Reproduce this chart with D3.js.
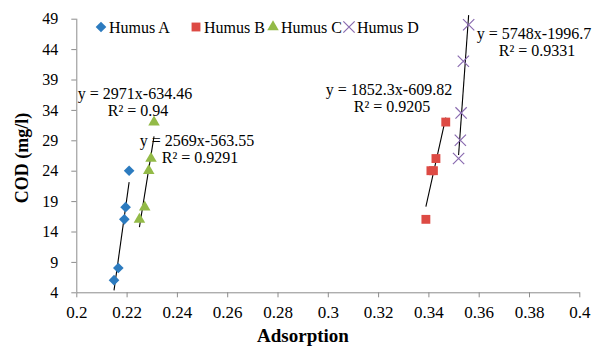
<!DOCTYPE html>
<html>
<head>
<meta charset="utf-8">
<script src="https://cdn.jsdelivr.net/npm/d3@7"></script>
<style>
  body { margin: 0; background: #fff; }
  text { font-family: "Liberation Serif", "Times New Roman", serif; fill: #000; }
</style>
</head>
<body>
<div id="chart"></div>
<script>
// values
const seriesNames = ['Humus A', 'Humus B', 'Humus C', 'Humus D'];
const seriesColors = ['#2c7bbf', '#dd4a44', '#93ba47', '#8a6bb0'];

const humusAx = [0.2150, 0.2167, 0.2191, 0.2196, 0.2210];
const humusAy = [6, 8, 16, 18, 24];
const humusBx = [0.3390, 0.3410, 0.3420, 0.3430, 0.3469];
const humusBy = [16, 24, 24, 26, 32];
const humusCx = [0.2251, 0.2272, 0.2288, 0.2297, 0.2309];
const humusCy = [16, 18, 24, 26, 32];
const humusDx = [0.3520, 0.3527, 0.3530, 0.3539, 0.3560];
const humusDy = [26, 29, 33.5, 42, 48];

// trendline slope / intercept / r2
const trendSlope = [2971, 1852.3, 2569, 5748];
const trendIntercept = [-634.46, -609.82, -563.55, -1996.7];
const trendR2 = ['0.94', '0.9205', '0.9291', '0.9331'];

const xTicks = [0.2, 0.22, 0.24, 0.26, 0.28, 0.3, 0.32, 0.34, 0.36, 0.38, 0.4];
const yTicks = [4, 9, 14, 19, 24, 29, 34, 39, 44, 49];

const width = 592, height = 346;
const serif = '"Liberation Serif", "Times New Roman", serif';

const svg = d3.select('#chart').append('svg')
    .attr('width', width)
    .attr('height', height);

const x = d3.scaleLinear().domain([0.2, 0.4]).range([76.3, 579.3]);
const y = d3.scaleLinear().domain([4, 49]).range([292.3, 18.7]);

const axisColor = '#8c8c8c';

// x axis
const gx = svg.append('g')
    .attr('transform', 'translate(0,' + y(4) + ')')
    .call(d3.axisBottom(x).tickValues(xTicks).tickFormat(d => String(+d.toFixed(2)))
        .tickSizeInner(5).tickSizeOuter(0).tickPadding(9));
gx.attr('font-family', serif).attr('font-size', 17);
gx.select('.domain').attr('stroke', axisColor);
gx.selectAll('.tick line').attr('stroke', axisColor);
gx.selectAll('.tick text').style('font-size', '17px').style('font-family', serif);

// y axis
const gy = svg.append('g')
    .attr('transform', 'translate(' + x(0.2) + ',0)')
    .call(d3.axisLeft(y).tickValues(yTicks).tickSizeInner(5).tickSizeOuter(0).tickPadding(13));
gy.attr('font-family', serif).attr('font-size', 16);
gy.select('.domain').attr('stroke', axisColor);
gy.selectAll('.tick line').attr('stroke', axisColor);
gy.selectAll('.tick text').style('font-size', '16px').style('font-family', serif);
gy.selectAll('.domain').attr('d', 'M0.5,' + y(4) + 'V' + y(49));

// axis titles
svg.append('text')
    .attr('x', 303).attr('y', 342)
    .attr('text-anchor', 'middle')
    .style('font-size', '19px').style('font-weight', 'bold')
    .text('Adsorption');

svg.append('text')
    .attr('transform', 'translate(28,158) rotate(-90)')
    .attr('text-anchor', 'middle')
    .style('font-size', '18px').style('font-weight', 'bold')
    .text('COD (mg/l)');

// marker shapes
function marker(sel, i) {
    const c = seriesColors[i];
    if (i === 0) {
        sel.append('path').attr('d', d3.symbol(d3.symbolSquare2, 72)).attr('fill', c)
            .attr('transform', 'rotate(45)');
    } else if (i === 1) {
        sel.append('path').attr('d', d3.symbol(d3.symbolSquare2, 100)).attr('fill', c);
    } else if (i === 2) {
        sel.append('path').attr('d', d3.symbol(d3.symbolTriangle2, 95)).attr('fill', c);
    } else {
        sel.append('path').attr('d', d3.symbol(d3.symbolX, 85)).attr('fill', 'none')
            .attr('stroke', c).attr('stroke-width', 1.2);
    }
}

const xs = [humusAx, humusBx, humusCx, humusDx];
const ys = [humusAy, humusBy, humusCy, humusDy];

// trendlines (from min x to max x of each series)
xs.forEach((xv, i) => {
    const ext = d3.extent(xv);
    const f = v => trendSlope[i] * v + trendIntercept[i];
    svg.append('line')
        .attr('x1', x(ext[0])).attr('y1', y(f(ext[0])))
        .attr('x2', x(ext[1])).attr('y2', y(f(ext[1])))
        .attr('stroke', '#000').attr('stroke-width', 1.1);
});

// points
xs.forEach((xv, i) => {
    const pts = xv.map((v, k) => [v, ys[i][k]]);
    svg.append('g').selectAll('g').data(pts).join('g')
        .attr('transform', d => 'translate(' + x(d[0]) + ',' + y(d[1]) + ')')
        .each(function () { marker(d3.select(this), i); });
});

// trendline labels: centre x, first baseline
const labelPos = [[135, 99], [389, 95], [197, 146], [534, 39]];
labelPos.forEach((p, i) => {
    const b = trendIntercept[i] < 0 ? '-' + Math.abs(trendIntercept[i]) : '+' + trendIntercept[i];
    const t = svg.append('text').attr('text-anchor', 'middle').style('font-size', '16px');
    t.append('tspan').attr('x', p[0]).attr('y', p[1]).text('y = ' + trendSlope[i] + 'x' + b);
    t.append('tspan').attr('x', p[0] + 3).attr('y', p[1] + 17).text('R² = ' + trendR2[i]);
});

// legend (marker centres)
const legendX = [101, 196, 273, 349];
seriesNames.forEach((name, i) => {
    const g = svg.append('g').attr('transform', 'translate(' + legendX[i] + ',27)');
    marker(g, i);
    g.append('text').attr('x', 8).attr('y', 6).style('font-size', '16px').text(name);
});
</script>
</body>
</html>
